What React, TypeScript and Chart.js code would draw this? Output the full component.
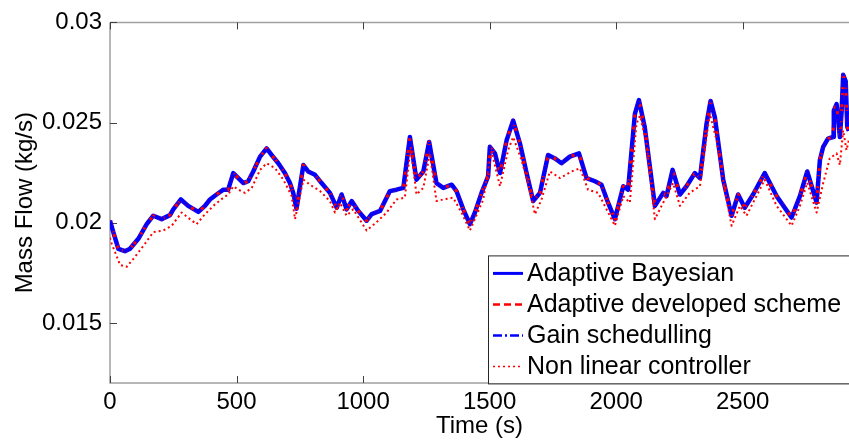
import { useEffect, useRef } from 'react';
import { Chart, registerables } from 'chart.js';

Chart.register(...registerables);

const FONT = "'Liberation Sans', Arial, Helvetica, sans-serif";

// Time axis (s) for the three overlapping adaptive / gain-scheduled controllers
const timeMain = [0, 13, 33, 59, 79, 112, 145, 171, 204, 237, 250, 280, 309, 349, 375, 395, 421, 448, 467, 487, 507, 527, 546, 566, 593, 619, 639, 665, 691, 711, 724, 737, 764, 783, 810, 836, 869, 896, 915, 935, 955, 981, 1014, 1034, 1067, 1106, 1132, 1159, 1185, 1211, 1238, 1261, 1290, 1317, 1350, 1369, 1396, 1422, 1442, 1468, 1494, 1501, 1521, 1541, 1567, 1593, 1620, 1646, 1672, 1699, 1731, 1758, 1784, 1817, 1853, 1883, 1916, 1942, 1968, 1995, 2028, 2047, 2074, 2090, 2113, 2153, 2186, 2199, 2223, 2252, 2278, 2311, 2331, 2357, 2373, 2390, 2423, 2456, 2482, 2508, 2541, 2587, 2634, 2693, 2726, 2755, 2792, 2805, 2818, 2837, 2857, 2860, 2871, 2884, 2891, 2897, 2907, 2913, 2919];

// Mass flow (kg/s), Adaptive Bayesian (the developed scheme and gain scheduling overlap it)
const flowBayesian = [0.02010, 0.01953, 0.01870, 0.01858, 0.01870, 0.01920, 0.01993, 0.02035, 0.02018, 0.02038, 0.02067, 0.02116, 0.02084, 0.02054, 0.02084, 0.02116, 0.02141, 0.02165, 0.02165, 0.02248, 0.02223, 0.02198, 0.02207, 0.02256, 0.02330, 0.02371, 0.02338, 0.02297, 0.02248, 0.02198, 0.02149, 0.02070, 0.02288, 0.02256, 0.02239, 0.02198, 0.02149, 0.02075, 0.02141, 0.02067, 0.02108, 0.02059, 0.02010, 0.02043, 0.02059, 0.02158, 0.02165, 0.02174, 0.02428, 0.02215, 0.02256, 0.02403, 0.02198, 0.02174, 0.02190, 0.02158, 0.02067, 0.01993, 0.02051, 0.02149, 0.02231, 0.02379, 0.02346, 0.02248, 0.02411, 0.02510, 0.02395, 0.02248, 0.02108, 0.02149, 0.02338, 0.02321, 0.02297, 0.02330, 0.02346, 0.02223, 0.02207, 0.02190, 0.02100, 0.02018, 0.02182, 0.02165, 0.02543, 0.02612, 0.02477, 0.02084, 0.02149, 0.02133, 0.02264, 0.02141, 0.02182, 0.02248, 0.02223, 0.02493, 0.02608, 0.02526, 0.02215, 0.02035, 0.02141, 0.02075, 0.02141, 0.02248, 0.02133, 0.02026, 0.02133, 0.02256, 0.02100, 0.02313, 0.02379, 0.02420, 0.02428, 0.02559, 0.02592, 0.02428, 0.02559, 0.02739, 0.02706, 0.02479, 0.02459];
const flowDeveloped = flowBayesian;
const flowGain = flowBayesian;

// Non linear controller
const timeNL = [0, 7, 40, 66, 99, 138, 171, 211, 244, 283, 316, 342, 375, 415, 448, 467, 487, 507, 533, 560, 593, 619, 652, 685, 718, 731, 764, 790, 830, 869, 889, 909, 935, 961, 1014, 1053, 1093, 1132, 1165, 1188, 1211, 1238, 1264, 1290, 1317, 1356, 1389, 1422, 1442, 1475, 1494, 1508, 1541, 1573, 1593, 1626, 1652, 1679, 1705, 1738, 1778, 1824, 1857, 1889, 1929, 1962, 1995, 2028, 2054, 2080, 2094, 2120, 2153, 2186, 2199, 2225, 2252, 2291, 2331, 2357, 2370, 2397, 2429, 2456, 2489, 2515, 2541, 2587, 2634, 2693, 2726, 2755, 2792, 2818, 2844, 2871, 2884, 2897, 2910, 2919];
const flowNL = [0.01925, 0.01895, 0.01789, 0.01780, 0.01830, 0.01895, 0.01953, 0.01961, 0.01985, 0.02051, 0.02018, 0.01993, 0.02042, 0.02092, 0.02125, 0.02141, 0.02182, 0.02165, 0.02149, 0.02174, 0.02264, 0.02297, 0.02272, 0.02215, 0.02133, 0.02018, 0.02215, 0.02190, 0.02158, 0.02108, 0.02051, 0.02100, 0.02035, 0.02067, 0.01961, 0.02002, 0.02051, 0.02116, 0.02125, 0.02379, 0.02141, 0.02174, 0.02346, 0.02108, 0.02116, 0.02125, 0.02051, 0.01961, 0.02020, 0.02116, 0.02264, 0.02354, 0.02182, 0.02362, 0.02428, 0.02313, 0.02198, 0.02042, 0.02116, 0.02256, 0.02223, 0.02256, 0.02272, 0.02165, 0.02149, 0.02067, 0.01985, 0.02133, 0.02100, 0.02493, 0.02534, 0.02395, 0.02018, 0.02100, 0.02133, 0.02198, 0.02084, 0.02150, 0.02182, 0.02428, 0.02543, 0.02411, 0.02166, 0.01985, 0.02084, 0.02035, 0.02100, 0.02215, 0.02084, 0.01985, 0.02084, 0.02200, 0.02051, 0.02198, 0.02321, 0.02346, 0.02288, 0.02461, 0.02362, 0.02411];

const seriesLabels = ['Adaptive Bayesian', 'Adaptive developed scheme', 'Gain schedulling', 'Non linear controller'];

const xTicks = [0, 500, 1000, 1500, 2000, 2500];
const xTickLabels = ['0', '500', '1000', '1500', '2000', '2500'];
const yTicks = [0.015, 0.02, 0.025, 0.03];
const yTickLabels = ['0.015', '0.02', '0.025', '0.03'];

const xTitle = 'Time (s)';
const yTitle = 'Mass Flow (kg/s)';

const toPoints = (xs: number[], ys: number[]) => xs.map((x, i) => ({ x, y: ys[i] }));

const styles = [
  { color: '#0000ff', width: 4.5, dash: [] as number[] },
  { color: '#ff0000', width: 3, dash: [7, 4] },
  { color: '#0000ff', width: 3, dash: [9, 3, 2, 3] },
  { color: '#ff0000', width: 2, dash: [2, 3] },
];

const legendWidths = [3, 2.5, 2.5, 1.5];

const decorPlugin = {
  id: 'decor',
  beforeDatasetsDraw(chart: any) {
    const { ctx, chartArea: ca, scales } = chart;
    ctx.save();
    ctx.strokeStyle = '#a0a0a0';
    ctx.lineWidth = 1.5;
    ctx.beginPath();
    ctx.moveTo(ca.left, ca.top);
    ctx.lineTo(ca.right + 2, ca.top);
    ctx.moveTo(ca.left, ca.top);
    ctx.lineTo(ca.left, ca.bottom);
    ctx.lineTo(ca.right + 2, ca.bottom);
    ctx.stroke();
    ctx.strokeStyle = '#404040';
    ctx.lineWidth = 1;
    ctx.beginPath();
    for (const v of xTicks) {
      const px = Math.round(scales.x.getPixelForValue(v)) + 0.5;
      ctx.moveTo(px, ca.bottom);
      ctx.lineTo(px, ca.bottom - 7);
      ctx.moveTo(px, ca.top);
      ctx.lineTo(px, ca.top + 7);
    }
    for (const v of yTicks) {
      const py = Math.round(scales.y.getPixelForValue(v)) + 0.5;
      ctx.moveTo(ca.left, py);
      ctx.lineTo(ca.left + 7, py);
    }
    ctx.stroke();
    ctx.restore();
  },
  afterDatasetsDraw(chart: any) {
    const { ctx, chartArea: ca } = chart;
    ctx.save();
    const bx = ca.left + 378;
    const by = ca.top + 233;
    const bw = ca.right - bx + 10;
    const bh = 128;
    ctx.fillStyle = '#ffffff';
    ctx.fillRect(bx, by, bw, bh);
    ctx.strokeStyle = '#262626';
    ctx.lineWidth = 1;
    ctx.setLineDash([]);
    ctx.strokeRect(bx + 0.5, by + 0.5, bw, bh);
    ctx.font = `25px ${FONT}`;
    ctx.textBaseline = 'middle';
    ctx.textAlign = 'left';
    seriesLabels.forEach((label, i) => {
      const y = by + 18 + i * 31;
      const s = styles[i];
      ctx.strokeStyle = s.color;
      ctx.lineWidth = legendWidths[i];
      ctx.setLineDash(s.dash);
      ctx.beginPath();
      ctx.moveTo(bx + 5, y);
      ctx.lineTo(bx + 35, y);
      ctx.stroke();
      ctx.setLineDash([]);
      ctx.fillStyle = '#000000';
      ctx.fillText(label, bx + 39, y + 1);
    });
    ctx.restore();
  },
};

export default function App() {
  const canvasRef = useRef<HTMLCanvasElement | null>(null);

  useEffect(() => {
    const canvas = canvasRef.current;
    if (!canvas) return;
    const dataSets = [
      toPoints(timeMain, flowBayesian),
      toPoints(timeMain, flowDeveloped),
      toPoints(timeMain, flowGain),
      toPoints(timeNL, flowNL),
    ];
    const chart = new Chart(canvas, {
      type: 'line',
      data: {
        datasets: dataSets.map((d, i) => ({
          label: seriesLabels[i],
          data: d,
          borderColor: styles[i].color,
          borderWidth: styles[i].width,
          borderDash: styles[i].dash,
          borderJoinStyle: 'round' as const,
          pointRadius: 0,
          tension: 0,
          fill: false,
          order: 4 - i,
        })),
      },
      options: {
        responsive: false,
        animation: false,
        devicePixelRatio: 1,
        layout: { padding: { top: 17, right: 0, bottom: 0, left: 0 } },
        plugins: { legend: { display: false }, tooltip: { enabled: false } },
        scales: {
          x: {
            type: 'linear',
            min: 0,
            max: 2920,
            grid: { display: false, drawTicks: false },
            border: { display: false },
            afterBuildTicks: (s: any) => {
              s.ticks = xTicks.map((v) => ({ value: v }));
            },
            afterFit: (s: any) => {
              s.height = 60;
            },
            ticks: {
              padding: 5,
              maxRotation: 0,
              color: '#000',
              font: { family: FONT, size: 24 },
              callback: (v: any) => xTickLabels[xTicks.indexOf(Number(v))] ?? '',
            },
            title: {
              display: true,
              text: xTitle,
              color: '#000',
              font: { family: FONT, size: 24, lineHeight: 1.2 },
              padding: { top: 0, bottom: 2 },
            },
          },
          y: {
            type: 'linear',
            min: 0.012,
            max: 0.03,
            grid: { display: false, drawTicks: false },
            border: { display: false },
            afterBuildTicks: (s: any) => {
              s.ticks = yTicks.map((v) => ({ value: v }));
            },
            afterFit: (s: any) => {
              s.width = 110;
            },
            ticks: {
              padding: 8,
              color: '#000',
              font: { family: FONT, size: 24 },
              callback: (v: any) => {
                const idx = yTicks.findIndex((t) => Math.abs(t - Number(v)) < 1e-9);
                return idx >= 0 ? yTickLabels[idx] : '';
              },
            },
            title: {
              display: true,
              text: yTitle,
              color: '#000',
              font: { family: FONT, size: 24, lineHeight: 1.2 },
              padding: { top: 11, bottom: 0 },
            },
          },
        },
      },
      plugins: [decorPlugin],
    });
    return () => chart.destroy();
  }, []);

  return (
    <div style={{ position: 'fixed', left: 0, top: 0, width: 849, height: 443, background: '#fff' }}>
      <canvas ref={canvasRef} width={849} height={443} style={{ display: 'block' }} />
    </div>
  );
}
